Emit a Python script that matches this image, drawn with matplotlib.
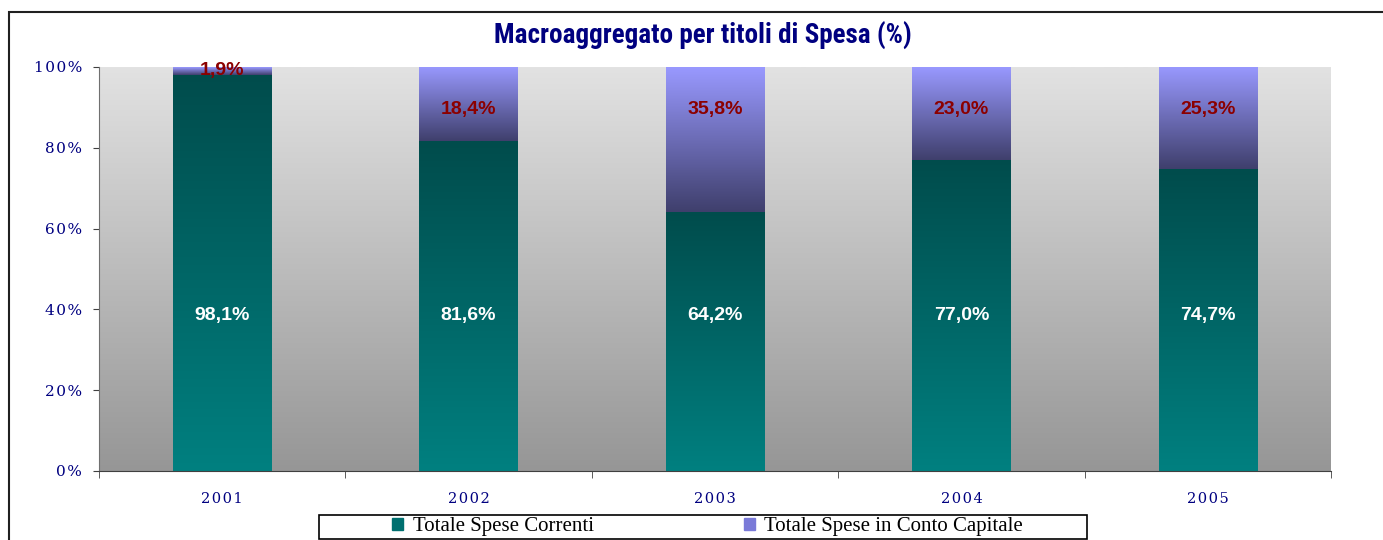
import numpy as np
import matplotlib
matplotlib.use("Agg")
import matplotlib.pyplot as plt
from matplotlib.colors import LinearSegmentedColormap
from matplotlib.patches import Rectangle

years = ["2001", "2002", "2003", "2004", "2005"]
correnti = [98.1, 81.6, 64.2, 77.0, 74.7]
capitale = [1.9, 18.4, 35.8, 23.0, 25.3]
lbl_correnti = ["98,1%", "81,6%", "64,2%", "77,0%", "74,7%"]
lbl_capitale = ["1,9%", "18,4%", "35,8%", "23,0%", "25,3%"]
yticks = [0, 20, 40, 60, 80, 100]

navy = "#000080"
teal_cm = LinearSegmentedColormap.from_list("teal", ["#008080", "#004c4c"])
blue_cm = LinearSegmentedColormap.from_list("blue", ["#3f3f6c", "#9999ff"])
bg_cm = LinearSegmentedColormap.from_list("bg", ["#969696", "#e2e2e2"])
grad = np.linspace(0, 1, 256).reshape(-1, 1)

W, H = 1383, 540


def spaced(s):
    return "\u200a".join(s)


fig = plt.figure(figsize=(W / 100, H / 100), dpi=100)
ax = fig.add_axes([99 / W, 69 / H, 1232 / W, 404 / H])

# cornice esterna
fig.patches.append(Rectangle((9 / W, -0.1), 1.2, 0.1 + 528 / H, transform=fig.transFigure,
                             fill=False, edgecolor="#202020", linewidth=1.5))

x = np.arange(len(years))

# sfondo sfumato
ax.imshow(grad, cmap=bg_cm, origin="lower", aspect="auto",
          extent=[-0.5, len(years) - 0.5, 0, 100], zorder=0)

b1 = ax.bar(x, correnti, width=0.4, color="none", zorder=2)
b2 = ax.bar(x, capitale, width=0.4, bottom=correnti, color="none", zorder=2)
for bars, cm in ((b1, teal_cm), (b2, blue_cm)):
    for p in bars:
        x0, y0 = p.get_x(), p.get_y()
        ax.imshow(grad, cmap=cm, origin="lower", aspect="auto",
                  extent=[x0, x0 + p.get_width(), y0, y0 + p.get_height()], zorder=1)
ax.set_xlim(-0.5, len(years) - 0.5)
ax.set_ylim(0, 100)

for i in range(len(years)):
    ax.text(x[i], 38.6, lbl_correnti[i], ha="center", va="center", color="white",
            fontsize=14, fontweight="bold", family="Liberation Sans", zorder=3)
    yc = 100 - capitale[i] / 2 if capitale[i] < 5 else 89.4
    ax.text(x[i], yc, lbl_capitale[i], ha="center", va="center", color="#8b0000",
            fontsize=14, fontweight="bold", family="Liberation Sans", zorder=3)

ax.set_yticks(yticks)
ax.set_yticklabels([spaced(f"{v}%") for v in yticks], family="DejaVu Serif",
                   fontsize=11, color=navy)
ax.set_xticks(x)
ax.set_xticklabels([spaced(y) for y in years], family="DejaVu Serif", fontsize=10.5, color=navy)
ax.set_xticks(np.arange(len(years) + 1) - 0.5, minor=True)
ax.tick_params(axis="x", which="major", length=0, pad=15)
ax.tick_params(axis="x", which="minor", length=5, color="#404040", direction="out")
ax.tick_params(axis="y", length=4, color="#404040", direction="out", pad=8)
for s in ("top", "right"):
    ax.spines[s].set_visible(False)
ax.spines["left"].set_color("#707070")
ax.spines["bottom"].set_color("#404040")

fig.text(703 / W, 1 - 36 / H, "Macroaggregato per titoli di Spesa (%)",
         ha="center", va="center", color=navy, fontsize=19.5, fontweight="bold",
         family=["Roboto Condensed", "Liberation Sans"])

# legenda con riquadro separato
fig.patches.append(Rectangle((319 / W, 1 - 538.5 / H), 768 / W, 24 / H, transform=fig.transFigure,
                             fill=False, edgecolor="black", linewidth=1.2))
handles = [Rectangle((0, 0), 1, 1, color="#007070"), Rectangle((0, 0), 1, 1, color="#7a7ad8")]
fig.legend(handles, ["Totale Spese Correnti", "Totale Spese in Conto Capitale"],
           loc="center", bbox_to_anchor=(707.5 / W, 1 - 527 / H), ncol=2,
           frameon=False, handlelength=0.55, handleheight=0.5, handletextpad=0.45,
           columnspacing=7.2, borderpad=0, borderaxespad=0,
           prop={"family": "Liberation Serif", "size": 15})

fig.savefig("out.png", dpi=100)
